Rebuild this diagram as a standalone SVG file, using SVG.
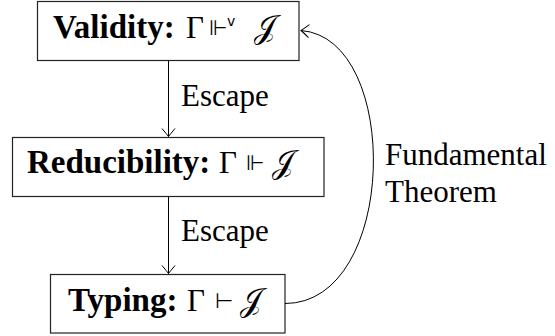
<svg xmlns="http://www.w3.org/2000/svg" width="555" height="336" viewBox="0 0 555 336">
<style>
.box{fill:#fff;stroke:#222;stroke-width:1.2}
.lbl{font-family:"Liberation Serif",serif;font-weight:bold;font-size:33px;fill:#000}
.rm{font-family:"Liberation Serif",serif;font-size:31px;fill:#000}
.op{font-family:"DejaVu Sans",sans-serif;font-size:21px;fill:#000}
.sup{font-family:"DejaVu Sans",sans-serif;font-size:14px;fill:#000}
.cal{font-family:"DejaVu Serif","DejaVu Sans","Liberation Serif",serif;font-size:32px;fill:#000}
.edge{fill:none;stroke:#000;stroke-width:1}
</style>
<defs>
<marker id="to" markerWidth="14" markerHeight="16" refX="0" refY="0" viewBox="-10 -8 12 16" markerUnits="userSpaceOnUse" orient="auto">
<path d="M-8,-6.5 Q-2,-1.5 0,0 Q-2,1.5 -8,6.5" fill="none" stroke="#000" stroke-width="1"/>
</marker>
</defs>
<g id="validity">
<rect class="box" x="37.5" y="1.5" width="261.5" height="59"/>
<text y="38"><tspan class="lbl" x="53">Validity:</tspan><tspan class="rm" x="186">Γ</tspan><tspan class="op" x="209" y="35">⊩</tspan><tspan class="sup" x="227" y="26">v</tspan><tspan class="cal" x="254" y="38">𝒥</tspan></text>
</g>
<g id="reducibility">
<rect class="box" x="12.5" y="137.5" width="311.5" height="59"/>
<text y="173"><tspan class="lbl" x="27">Reducibility:</tspan><tspan class="rm" x="219">Γ</tspan><tspan class="op" x="246" y="170">⊩</tspan><tspan class="cal" x="272" y="173">𝒥</tspan></text>
</g>
<g id="typing">
<rect class="box" x="50.5" y="274.5" width="234.5" height="58.5"/>
<text y="311"><tspan class="lbl" x="68">Typing:</tspan><tspan class="rm" x="187">Γ</tspan><tspan class="op" x="215" y="308">⊢</tspan><tspan class="cal" x="240" y="311">𝒥</tspan></text>
</g>
<g id="connectors">
<path class="edge" d="M168.5,61 L168.5,136.5" marker-end="url(#to)"/>
<path class="edge" d="M168.5,197 L168.5,273.5" marker-end="url(#to)"/>
<path class="edge" d="M285,303.5 C398,303.5 402,38 301,30.5" marker-end="url(#to)"/>
<text class="rm" x="181" y="106">Escape</text>
<text class="rm" x="181" y="241">Escape</text>
<text class="rm" x="385" y="165">Fundamental</text>
<text class="rm" x="385" y="202">Theorem</text>
</g>
</svg>
